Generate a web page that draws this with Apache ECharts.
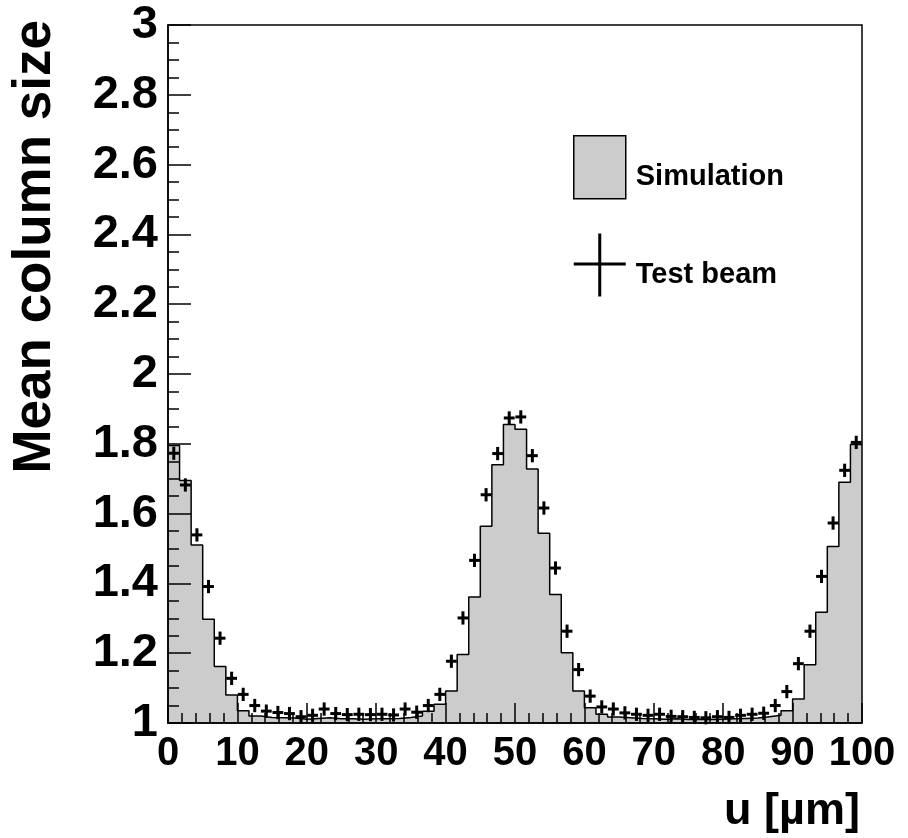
<!DOCTYPE html>
<html>
<head>
<meta charset="utf-8">
<script src="https://cdn.jsdelivr.net/npm/echarts@6/dist/echarts.min.js"></script>
<style>
  html, body { margin: 0; padding: 0; background: #fff; }
  #chart { width: 908px; height: 838px; }
</style>
</head>
<body>
<div id="chart"></div>
<script>
// ---- data ----
const uMin = 0;
const uMax = 100;
const binCount = 60;
const simulation = [
  1.795, 1.695, 1.510, 1.297, 1.162, 1.080, 1.035, 1.020, 1.016, 1.015,
  1.014, 1.011, 1.013, 1.015, 1.012, 1.012, 1.011, 1.012, 1.012, 1.013,
  1.016, 1.020, 1.034, 1.054, 1.092, 1.196, 1.361, 1.564, 1.740, 1.855,
  1.842, 1.728, 1.544, 1.368, 1.201, 1.092, 1.044, 1.025, 1.017, 1.015,
  1.013, 1.012, 1.011, 1.012, 1.010, 1.011, 1.010, 1.011, 1.012, 1.013,
  1.014, 1.018, 1.022, 1.035, 1.069, 1.167, 1.317, 1.506, 1.690, 1.798
];
const testBeam = [
  1.773, 1.682, 1.539, 1.391, 1.243, 1.128, 1.082, 1.050, 1.034, 1.030,
  1.027, 1.018, 1.022, 1.040, 1.027, 1.024, 1.025, 1.024, 1.025, 1.023,
  1.040, 1.031, 1.050, 1.082, 1.177, 1.301, 1.466, 1.654, 1.772, 1.874,
  1.877, 1.766, 1.616, 1.444, 1.263, 1.153, 1.077, 1.046, 1.040, 1.029,
  1.025, 1.022, 1.025, 1.019, 1.018, 1.016, 1.015, 1.018, 1.016, 1.022,
  1.025, 1.028, 1.050, 1.090, 1.170, 1.263, 1.420, 1.573, 1.724, 1.804
];
const yMin = 1, yMax = 3, yStep = 0.2;
const xStep = 10;
const seriesNames = ['Simulation', 'Test beam'];
const xTitle = 'u [\u00b5m]';
const yTitle = 'Mean column size';

// ---- build ----
const binW = (uMax - uMin) / binCount;
const simStep = simulation.map((v, i) => [uMin + i * binW, v]);
simStep.push([uMax, simulation[simulation.length - 1]]);
const beamPts = testBeam.map((v, i) => [uMin + (i + 0.5) * binW, v]);
const xErr = 0.78, yErr = 0.019;

const FONT = "'Liberation Sans', Arial, Helvetica, sans-serif";
const chart = echarts.init(document.getElementById('chart'), null, { renderer: 'canvas' });

chart.setOption({
  animation: false,
  backgroundColor: '#ffffff',
  grid: {
    left: 168, right: 46, top: 25, bottom: 115,
    show: true, borderColor: '#000', borderWidth: 1.5, z: 10
  },
  legend: {
    orient: 'vertical',
    left: 573, top: 135, padding: 0,
    itemWidth: 52, itemHeight: 63, itemGap: 34,
    selectedMode: false,
    formatter: function (name) { return '{t|' + name + '}'; },
    textStyle: {
      color: '#000',
      rich: { t: { fontFamily: FONT, fontWeight: 'bold', fontSize: 29, color: '#000', padding: [20, 0, 0, 5] } }
    },
    data: [
      { name: seriesNames[0], icon: 'rect', itemStyle: { color: '#cccccc', borderColor: '#000', borderWidth: 1.5 } },
      { name: seriesNames[1], icon: 'path://M0,29H52V32H0Z M24.5,0H27.5V63H24.5Z', itemStyle: { color: '#000', borderWidth: 0 } }
    ]
  },
  xAxis: {
    type: 'value', min: uMin, max: uMax, interval: xStep, z: 10,
    axisLine: { show: true, onZero: false, lineStyle: { color: '#000', width: 1.5 } },
    axisTick: { show: true, inside: true, length: 20, lineStyle: { color: '#000', width: 1.5 } },
    minorTick: { show: true, splitNumber: 5, length: 10, lineStyle: { color: '#000', width: 1.5 } },
    splitLine: { show: false },
    axisLabel: { margin: 11, fontFamily: FONT, fontWeight: 'bold', fontSize: 40, color: '#000' }
  },
  yAxis: {
    type: 'value', min: yMin, max: yMax, interval: yStep, z: 10,
    axisLine: { show: true, onZero: false, lineStyle: { color: '#000', width: 1.5 } },
    axisTick: { show: true, inside: true, length: 23, lineStyle: { color: '#000', width: 1.5 } },
    minorTick: { show: true, splitNumber: 4, length: 11, lineStyle: { color: '#000', width: 1.5 } },
    splitLine: { show: false },
    axisLabel: { margin: 10, fontFamily: FONT, fontWeight: 'bold', fontSize: 47, color: '#000' }
  },
  graphic: [
    {
      type: 'text', x: 35, y: 20, rotation: Math.PI / 2, z: 20,
      style: { text: yTitle, fontFamily: FONT, fontWeight: 'bold', fontSize: 53, fill: '#000', align: 'right', verticalAlign: 'middle' }
    },
    {
      type: 'text', x: 860, y: 812, z: 20,
      style: { text: xTitle, fontFamily: FONT, fontWeight: 'bold', fontSize: 45, fill: '#000', align: 'right', verticalAlign: 'middle' }
    }
  ],
  series: [
    {
      name: seriesNames[0], type: 'line', step: 'end', data: simStep,
      showSymbol: false, symbol: 'none', z: 2,
      itemStyle: { color: '#cccccc' },
      lineStyle: { color: '#000', width: 1.5 },
      areaStyle: { color: '#cccccc', opacity: 1 }
    },
    {
      name: seriesNames[1], type: 'custom', data: beamPts, z: 5,
      itemStyle: { color: '#000' },
      renderItem: function (params, api) {
        const x = api.value(0), y = api.value(1);
        const l = api.coord([x - xErr, y]);
        const r = api.coord([x + xErr, y]);
        const t = api.coord([x, y + yErr]);
        const b = api.coord([x, y - yErr]);
        const st = { stroke: '#000', lineWidth: 3 };
        return {
          type: 'group',
          children: [
            { type: 'line', shape: { x1: l[0], y1: l[1], x2: r[0], y2: r[1] }, style: st },
            { type: 'line', shape: { x1: t[0], y1: t[1], x2: b[0], y2: b[1] }, style: st }
          ]
        };
      }
    }
  ]
});
</script>
</body>
</html>
